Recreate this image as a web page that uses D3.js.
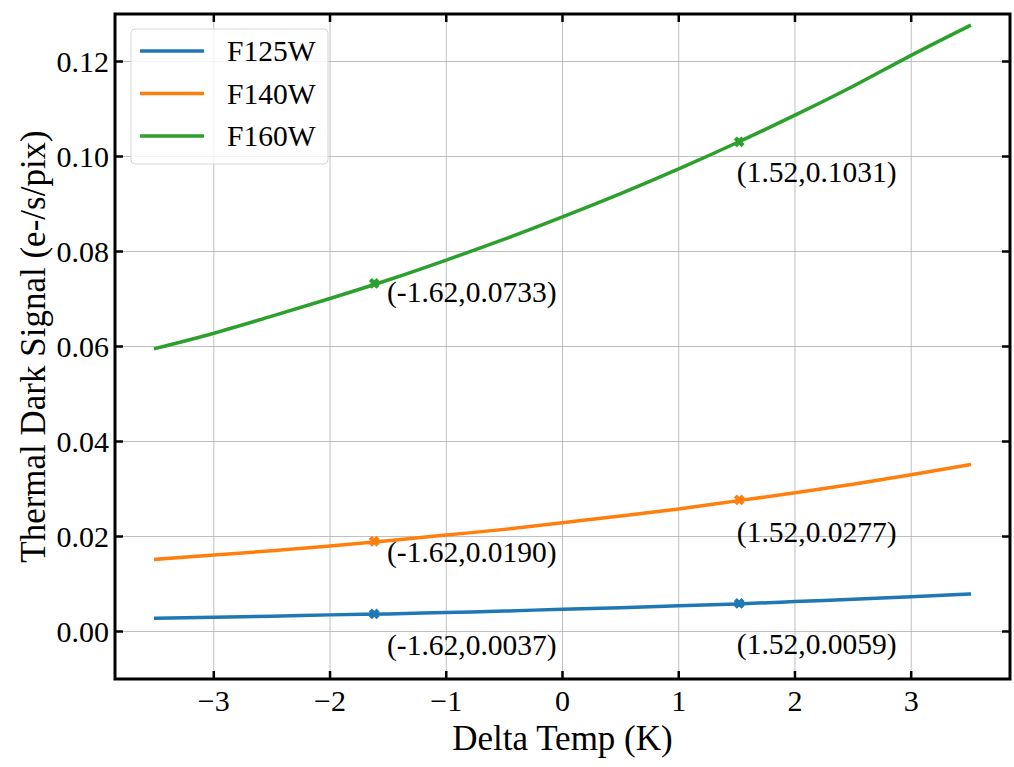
<!DOCTYPE html>
<html>
<head>
<meta charset="utf-8">
<script src="https://cdn.jsdelivr.net/npm/d3@7"></script>
<style>
  html, body { margin: 0; padding: 0; background: #fff; }
  svg { display: block; }
  text { font-family: "Liberation Serif", "DejaVu Serif", serif; fill: #000; }
</style>
</head>
<body>
<svg id="chart" width="1014" height="767"></svg>
<script>
// ---- data ----
const deltaTemp = [-3.5, -3.0, -2.5, -2.0, -1.5, -1.0, -0.5, 0.0, 0.5, 1.0, 1.5, 2.0, 2.5, 3.0, 3.5];
const f125w = [0.0028, 0.0030, 0.0032, 0.0035, 0.0037, 0.0040, 0.0043, 0.0047, 0.0050, 0.0054, 0.0058, 0.0063, 0.0068, 0.0073, 0.0079];
const f140w = [0.0152, 0.0161, 0.0170, 0.0180, 0.0191, 0.0203, 0.0215, 0.0229, 0.0243, 0.0258, 0.0275, 0.0292, 0.0310, 0.0330, 0.0351];
const f160w = [0.0596, 0.0628, 0.0664, 0.0701, 0.0740, 0.0782, 0.0826, 0.0873, 0.0922, 0.0974, 0.1029, 0.1087, 0.1148, 0.1213, 0.1275];
const seriesNames = ["F125W", "F140W", "F160W"];
const seriesColors = ["#1f77b4", "#ff7f0e", "#2ca02c"];

const markX = [-1.62, 1.52];
const markF125W = [0.0037, 0.0059];
const markF140W = [0.0190, 0.0277];
const markF160W = [0.0733, 0.1031];
// label anchor (data coords of text baseline start)
const labelX = [-1.51, 1.50];
const labelYF125W = [-0.0050, -0.0048];
const labelYF140W = [0.0147, 0.0189];
const labelYF160W = [0.0693, 0.0947];

const xTicks = [-3, -2, -1, 0, 1, 2, 3];
const yTicks = [0.00, 0.02, 0.04, 0.06, 0.08, 0.10, 0.12];
const xDomain = [-3.85, 3.85];
const yDomain = [-0.01, 0.13];

// ---- layout ----
const L = 115, R = 1010, T = 14, B = 679;
const svg = d3.select("#chart");
const x = d3.scaleLinear().domain(xDomain).range([L, R]);
const y = d3.scaleLinear().domain(yDomain).range([B, T]);

// grid
const grid = svg.append("g");
grid.selectAll("line.gx").data(xTicks).enter().append("line")
  .attr("x1", d => x(d)).attr("x2", d => x(d)).attr("y1", T).attr("y2", B)
  .attr("stroke", "#b0b0b0").attr("stroke-width", 1).attr("stroke-opacity", 0.8);
grid.selectAll("line.gy").data(yTicks).enter().append("line")
  .attr("x1", L).attr("x2", R).attr("y1", d => y(d)).attr("y2", d => y(d))
  .attr("stroke", "#b0b0b0").attr("stroke-width", 1).attr("stroke-opacity", 0.8);

// lines
const allSeries = [f125w, f140w, f160w];
const line = d3.line().x((d, i) => x(deltaTemp[i])).y(d => y(d)).curve(d3.curveMonotoneX);
allSeries.forEach((s, k) => {
  svg.append("path").datum(s).attr("d", line)
    .attr("fill", "none").attr("stroke", seriesColors[k]).attr("stroke-width", 3.5)
    .attr("stroke-linecap", "square");
});

// markers + annotations
const marks = [markF125W, markF140W, markF160W];
const labYs = [labelYF125W, labelYF140W, labelYF160W];
const sym = d3.symbol().type(d3.symbolCross).size(55);
marks.forEach((m, k) => {
  m.forEach((v, j) => {
    svg.append("path").attr("d", sym())
      .attr("transform", `translate(${x(markX[j])},${y(v)}) rotate(45)`)
      .attr("fill", seriesColors[k]).attr("stroke", seriesColors[k]).attr("stroke-width", 1);
    svg.append("text")
      .attr("x", x(labelX[j])).attr("y", y(labYs[k][j]))
      .attr("font-size", 29.5)
      .text(`(${markX[j].toFixed(2)},${v.toFixed(4)})`);
  });
});

// axes ticks (inward, all four sides)
const tickLen = 8;
const ax = svg.append("g").attr("stroke", "#000").attr("stroke-width", 2.5);
xTicks.forEach(t => {
  ax.append("line").attr("x1", x(t)).attr("x2", x(t)).attr("y1", B).attr("y2", B - tickLen);
  ax.append("line").attr("x1", x(t)).attr("x2", x(t)).attr("y1", T).attr("y2", T + tickLen);
});
yTicks.forEach(t => {
  ax.append("line").attr("x1", L).attr("x2", L + tickLen).attr("y1", y(t)).attr("y2", y(t));
  ax.append("line").attr("x1", R).attr("x2", R - tickLen).attr("y1", y(t)).attr("y2", y(t));
});

// tick labels
svg.append("g").selectAll("text").data(xTicks).enter().append("text")
  .attr("x", d => x(d)).attr("y", 711).attr("text-anchor", "middle").attr("font-size", 30)
  .text(d => d < 0 ? "\u2212" + Math.abs(d) : String(d));
svg.append("g").selectAll("text").data(yTicks).enter().append("text")
  .attr("x", L - 6).attr("y", d => y(d)).attr("dy", "0.34em").attr("text-anchor", "end").attr("font-size", 30)
  .text(d => d3.format(".2f")(d));

// frame
svg.append("rect").attr("x", L).attr("y", T).attr("width", R - L).attr("height", B - T)
  .attr("fill", "none").attr("stroke", "#000").attr("stroke-width", 3);

// axis labels
svg.append("text").attr("x", (L + R) / 2).attr("y", 750).attr("text-anchor", "middle")
  .attr("font-size", 35).text("Delta Temp (K)");
svg.append("text").attr("transform", `translate(45,${(T + B) / 2}) rotate(-90)`)
  .attr("text-anchor", "middle").attr("font-size", 35).text("Thermal Dark Signal (e-/s/pix)");

// legend
const lg = svg.append("g").attr("transform", `translate(${L + 16},${T + 15})`);
lg.append("rect").attr("width", 197).attr("height", 135).attr("rx", 4)
  .attr("fill", "#fff").attr("fill-opacity", 0.8).attr("stroke", "#d6d6d6").attr("stroke-width", 1);
seriesNames.forEach((n, k) => {
  const yy = 22 + k * 42.5;
  lg.append("line").attr("x1", 9).attr("x2", 73).attr("y1", yy).attr("y2", yy)
    .attr("stroke", seriesColors[k]).attr("stroke-width", 3.5);
  lg.append("text").attr("x", 96).attr("y", yy).attr("dy", "0.34em").attr("font-size", 29.5).text(n);
});
</script>
</body>
</html>
